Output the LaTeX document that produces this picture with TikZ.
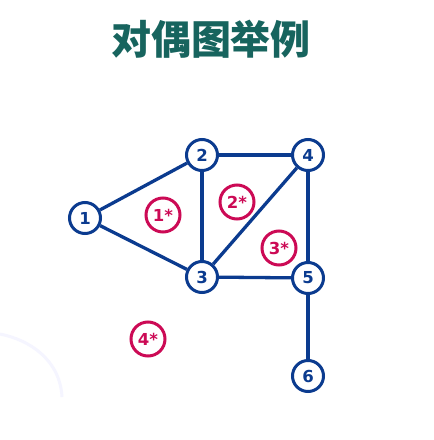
\documentclass[tikz,border=0pt]{standalone}
\usepackage{fontspec}
\setmainfont{DejaVu Sans}
\newfontfamily\cjk{Noto Sans CJK SC}
\definecolor{nodeblue}{HTML}{0B3B8F}
\definecolor{dualred}{HTML}{CC0A55}
\definecolor{titlegreen}{HTML}{17645E}
\begin{document}
\begin{tikzpicture}[x=1pt,y=-1pt,
  vtx/.style={circle,draw=nodeblue,line width=3pt,fill=white,minimum size=31pt,inner sep=0pt,
    text=nodeblue,font=\fontsize{16.5}{16.5}\selectfont\bfseries},
  dual/.style={circle,draw=dualred,line width=3pt,fill=white,minimum size=34pt,inner sep=0pt,
    text=dualred,font=\fontsize{16.5}{16.5}\selectfont\bfseries},
  edge/.style={draw=nodeblue,line width=3.3pt}]
\useasboundingbox (0,0) rectangle (434,440);
\fill[white] (0,0) rectangle (434,440);
% faint background arc
\draw[blue!4,line width=3pt] (0,334) .. controls (30,340) and (60,360) .. (62,397);
\node[font=\cjk\bfseries\fontsize{40}{40}\selectfont,text=titlegreen] (title) at (211,39) {对偶图举例};
\node[vtx] (n1) at (85,218) {1};
\node[vtx] (n2) at (202,155) {2};
\node[vtx] (n4) at (308,155) {4};
\node[vtx] (n3) at (202,277) {3};
\node[vtx] (n5) at (308,278) {5};
\node[vtx] (n6) at (308,376) {6};
\draw[edge] (n1) -- (n2);
\draw[edge] (n1) -- (n3);
\draw[edge] (n2) -- (n3);
\draw[edge] (n2) -- (n4);
\draw[edge] (n4) -- (n3);
\draw[edge] (n4) -- (n5);
\draw[edge] (n3) -- (n5);
\draw[edge] (n5) -- (n6);
\node[dual] (d1) at (163,215) {1*};
\node[dual] (d2) at (237,202) {2*};
\node[dual] (d3) at (279,248) {3*};
\node[dual] (d4) at (148,339) {4*};
\end{tikzpicture}
\end{document}
